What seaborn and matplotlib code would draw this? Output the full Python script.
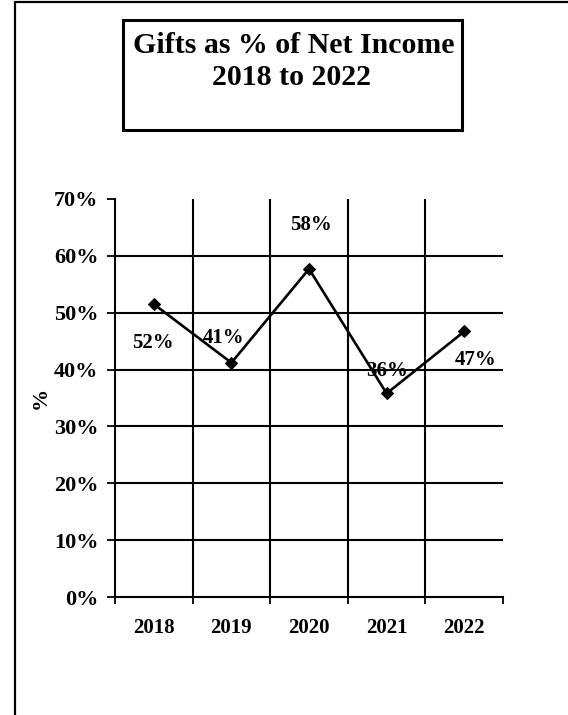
import matplotlib
matplotlib.use("Agg")
import matplotlib.pyplot as plt
import seaborn as sns
import pandas as pd
from matplotlib.patches import Rectangle
from matplotlib.lines import Line2D
from matplotlib.ticker import PercentFormatter

years = ["2018", "2019", "2020", "2021", "2022"]
values = [0.515, 0.412, 0.577, 0.358, 0.467]
labels = ["52%", "41%", "58%", "36%", "47%"]
yticks = [0.0, 0.1, 0.2, 0.3, 0.4, 0.5, 0.6, 0.7]

sns.set_theme(style="white")
plt.rcParams['font.family'] = ['Liberation Serif', 'DejaVu Serif']
plt.rcParams['font.weight'] = 'bold'

df = pd.DataFrame({"year": years, "value": values})

fig = plt.figure(figsize=(5.68, 7.15), dpi=100)
ax = fig.add_axes([0.2025, 0.165, 0.8856 - 0.2025, 0.7217 - 0.165])

sns.lineplot(data=df, x="year", y="value", ax=ax, color="black", linewidth=1.9,
             marker="D", markersize=6.5, markeredgecolor="black", markerfacecolor="black")

ax.set_xlim(-0.5, 4.5)
ax.set_ylim(0, 0.7)
ax.set_yticks(yticks)
ax.yaxis.set_major_formatter(PercentFormatter(1.0, decimals=0))
ax.set_xticks(range(len(years)))
ax.set_xticklabels(years)
# gridlines
for y in yticks[1:-1]:
    ax.axhline(y, color="black", linewidth=1.5, zorder=1)
for xb in [0.5, 1.5, 2.5, 3.5]:
    ax.axvline(xb, color="black", linewidth=1.5, zorder=1)
# boundary tick marks at bottom
ax.set_xticks([-0.5, 0.5, 1.5, 2.5, 3.5, 4.5], minor=True)
ax.tick_params(axis="x", which="minor", direction="out", length=5, width=1.3, color="black", bottom=True)
ax.tick_params(axis="x", which="major", length=0, labelsize=15, pad=15, labelcolor="black")
ax.tick_params(axis="y", direction="out", length=6, width=1.3, color="black", left=True,
               labelsize=16, pad=6, labelcolor="black")
for lab in ax.get_xticklabels() + ax.get_yticklabels():
    lab.set_fontweight("bold")

for s in ["top", "right"]:
    ax.spines[s].set_visible(False)
for s in ["left", "bottom"]:
    ax.spines[s].set_color("black")
    ax.spines[s].set_linewidth(1.5)

ax.set_xlabel("")
ax.set_ylabel("%", fontsize=16, fontweight="bold", color="black", labelpad=2)

offsets = [(-0.01, -0.068), (-0.1, 0.044), (0.02, 0.077), (0.0, 0.04), (0.15, -0.051)]
for i, (lab, v) in enumerate(zip(labels, values)):
    dx, dy = offsets[i]
    ax.text(i + dx, v + dy, lab, ha="center", va="center", fontsize=15,
            fontweight="bold", color="black")

# title box
fig.patches.append(Rectangle((0.2165, 0.818), 0.8134 - 0.2165, 0.972 - 0.818,
                             transform=fig.transFigure, fill=False,
                             edgecolor="black", linewidth=2.2))
fig.text(0.517, 0.936, "Gifts as % of Net Income", ha="center", va="center",
         fontsize=21.5, fontweight="bold", color="black")
fig.text(0.513, 0.891, "2018 to 2022", ha="center", va="center",
         fontsize=21.5, fontweight="bold", color="black")

# outer frame
fig.lines.append(Line2D([15/568, 15/568], [0, 1 - 2/715], transform=fig.transFigure,
                        color="black", linewidth=1.6))
fig.lines.append(Line2D([15/568, 1], [1 - 2/715, 1 - 2/715], transform=fig.transFigure,
                        color="black", linewidth=1.6))

fig.savefig("out.png", dpi=100)
